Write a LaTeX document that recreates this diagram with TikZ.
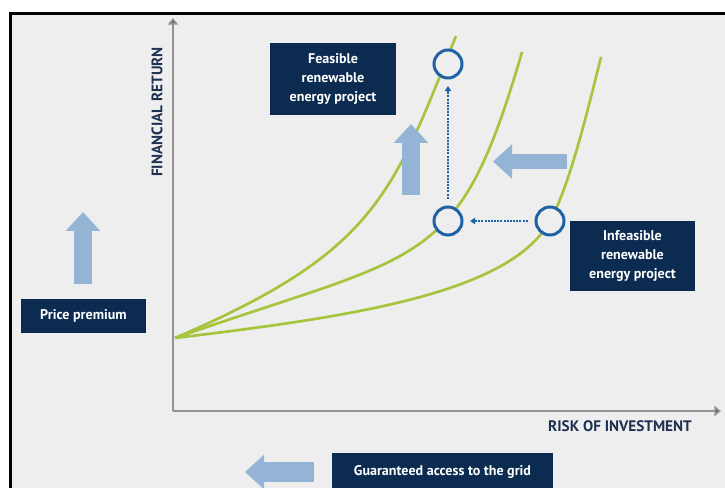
\documentclass[tikz,border=0pt]{standalone}
\usepackage{fontspec}
\setmainfont{PT Sans}
\usepackage{tikz}
\usetikzlibrary{arrows.meta}

\definecolor{kasten}{HTML}{0B2B50}
\definecolor{pfeilblau}{HTML}{93B4D4}
\definecolor{kurve}{HTML}{A6C43C}
\definecolor{ring}{HTML}{1F62A6}
\definecolor{flaeche}{HTML}{EEEEEE}
\definecolor{achsentext}{HTML}{1E3150}

\tikzset{
	box/.style={fill=kasten, text=white, align=center, inner sep=0pt,
		font=\bfseries\fontsize{12}{16}\selectfont},
	bigarrow/.style={draw=pfeilblau, line width=0.54cm,
		-{Triangle[length=0.57cm,width=1cm]}},
	kreis/.style={circle, draw=ring, fill=flaeche, line width=0.09cm,
		minimum size=0.84cm, inner sep=0pt},
	punktpfeil/.style={draw=ring, line width=0.06cm, densely dotted,
		-{Triangle[length=0.15cm,width=0.2cm]}, shorten <=0.2cm, shorten >=0.2cm},
	achse/.style={draw=gray!85, line width=0.06cm,
		-{Triangle[length=0.2cm,width=0.3cm,fill=gray!60!black]}},
	achsenlabel/.style={text=achsentext, font=\bfseries\fontsize{13}{13}\selectfont},
	ertrag/.style={draw=kurve, line width=0.08cm}
}

\begin{document}
\begin{tikzpicture}[x=0.03cm, y=-0.03cm]
				\useasboundingbox (0,0) rectangle (725,488);
				\fill[white] (0,0) rectangle (725,488);
				\fill[flaeche] (10,14) rectangle (725,488);
				\draw[black, line width=0.09cm] (10,488) -- (10,14) -- (725,14);
				% Achsen
				\coordinate (O) at (173,411);
				\coordinate (ytop) at (173,18);
				\coordinate (xend) at (721,411);
				\draw[achse] (O) -- (ytop);
				\draw[achse] (O) -- (xend);
				\node[achsenlabel, rotate=90] (ylabel) at (157,112) {FINANCIAL RETURN};
				\node[achsenlabel] (xlabel) at (620,426) {RISK OF INVESTMENT};
				% drei Kurven, gemeinsamer Startpunkt
				\coordinate (start) at (175,338);
				\draw[ertrag] (start) .. controls (375,252) and (392,196) .. (456,36);
				\draw[ertrag] (start) .. controls (425,250.5) and (458,272) .. (522,52);
				\draw[ertrag] (start) .. controls (355,316.4) and (510,293) .. (550,221)
					.. controls (570,185) and (588.5,107) .. (601,57);
				% breite Pfeile
				\draw[bigarrow] (411,195) -- (411,124);
				\draw[bigarrow, line width=0.46cm] (567,161.5) -- (493,161.5);
				\draw[bigarrow] (83,284) -- (83,212);
				\draw[bigarrow, line width=0.6cm] (314,472) -- (245,472);
				% Projekte
				\node[kreis] (oben) at (448,64) {};
				\node[kreis] (mitte) at (448,221) {};
				\node[kreis] (rechts) at (550,221) {};
				\draw[punktpfeil] (rechts) -- (mitte);
				\draw[punktpfeil] (mitte) -- (oben);
				% Kaesten
				\node[box, minimum width=3.78cm, minimum height=2.16cm] (feasible) at (333,79) {Feasible\\renewable\\energy project};
				\node[box, minimum width=3.75cm, minimum height=2.1cm] (infeasible) at (632.5,256) {Infeasible\\renewable\\energy project};
				\node[box, minimum width=3.75cm, minimum height=1.02cm] (premium) at (83.5,316) {Price premium};
				\node[box, minimum width=6.63cm, minimum height=1.11cm] (grid) at (442.5,471.5) {Guaranteed access to the grid};
			\end{tikzpicture}
\end{document}
